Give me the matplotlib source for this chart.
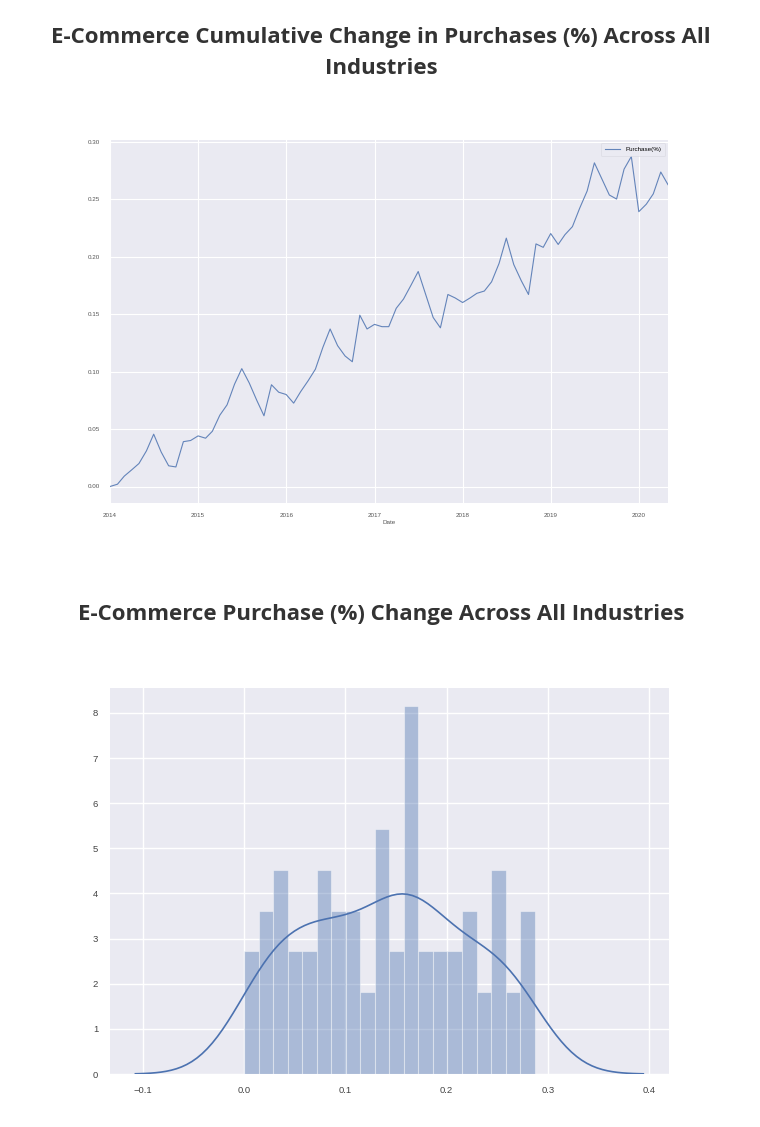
import numpy as np
import pandas as pd
import matplotlib
matplotlib.use("Agg")
import matplotlib.pyplot as plt
import matplotlib.dates as mdates

# =============================
# Data: cumulative purchase change, monthly Jan 2014 - May 2020
# =============================
start_month = "2014-01-01"
purchase = [
    0.000, 0.002, 0.009, 0.0145, 0.020, 0.031, 0.0455, 0.030, 0.018, 0.017, 0.039, 0.040,   # 2014
    0.044, 0.042, 0.048, 0.062, 0.071, 0.089, 0.1025, 0.090, 0.075, 0.0615, 0.0885, 0.082,  # 2015
    0.080, 0.0725, 0.0825, 0.092, 0.102, 0.121, 0.137, 0.1225, 0.1135, 0.1085, 0.149, 0.137, # 2016
    0.141, 0.139, 0.139, 0.155, 0.163, 0.175, 0.187, 0.167, 0.147, 0.138, 0.167, 0.164,    # 2017
    0.160, 0.164, 0.168, 0.170, 0.178, 0.194, 0.216, 0.193, 0.179, 0.167, 0.211, 0.208,    # 2018
    0.220, 0.2105, 0.219, 0.226, 0.242, 0.257, 0.2815, 0.2675, 0.2535, 0.250, 0.276, 0.287, # 2019
    0.239, 0.2455, 0.2545, 0.2735, 0.2625,                                                  # 2020
]
n_bins = 20
title_top = ["E-Commerce Cumulative Change in Purchases (%) Across All", "Industries"]
title_bottom = "E-Commerce Purchase (%) Change Across All Industries"

dates = pd.date_range(start_month, periods=len(purchase), freq="MS")
values = np.array(purchase)

# =============================
# Style (seaborn darkgrid look)
# =============================
plt.rcParams.update({
    "font.family": ["Liberation Sans", "DejaVu Sans"],
    "axes.facecolor": "#EAEAF2",
    "axes.edgecolor": "white",
    "axes.grid": True,
    "grid.color": "white",
    "axes.axisbelow": True,
    "xtick.bottom": False,
    "ytick.left": False,
    "xtick.color": "#444444",
    "ytick.color": "#444444",
})

W, H = 760, 1127
fig = plt.figure(figsize=(W / 100, H / 100), dpi=100)
blue = "#4C72B0"
title_kw = dict(ha="center", va="baseline", fontsize=16, fontweight="bold",
                color="#333333", family=["Open Sans", "DejaVu Sans"])

fig.text(381 / W, 1 - 43.5 / H, title_top[0], **title_kw)
fig.text(381 / W, 1 - 73.5 / H, title_top[1], **title_kw)
fig.text(381 / W, 1 - 620 / H, title_bottom, **title_kw)

# =============================
# Top: line chart
# =============================
ax1 = fig.add_axes([110 / W, 1 - 503 / H, 558 / W, 363 / H])
for s in ax1.spines.values():
    s.set_visible(False)
ax1.plot(dates, values, color=blue, lw=0.8, alpha=0.85, label="Purchase(%)")
ax1.set_xlim(dates[0], dates[-1])
ax1.set_ylim(-0.01435, 0.30135)
ax1.set_yticks(np.arange(0, 0.31, 0.05))
ax1.yaxis.set_major_formatter(plt.FormatStrFormatter("%.2f"))
ax1.xaxis.set_major_locator(mdates.YearLocator())
ax1.xaxis.set_major_formatter(mdates.DateFormatter("%Y"))
ax1.tick_params(labelsize=4.5, pad=4, labelcolor="#555555")
ax1.grid(lw=0.8)
ax1.set_xlabel("Date", fontsize=4.5, color="#555555", labelpad=1)
leg = ax1.legend(loc="upper right", fontsize=4.5, frameon=True, handlelength=2.5,
                 borderpad=0.6, fancybox=True)
leg.get_frame().set_facecolor("#EAEAF2")
leg.get_frame().set_edgecolor("#D8D8E0")
leg.get_frame().set_linewidth(0.5)

# =============================
# Bottom: histogram + KDE
# =============================
ax2 = fig.add_axes([110 / W, 1 - 1074 / H, 558.7 / W, 386 / H])
for s in ax2.spines.values():
    s.set_visible(False)
ax2.hist(values, bins=n_bins, density=True, color=blue, alpha=0.4,
         edgecolor="white", linewidth=0.8)

# Gaussian KDE, statsmodels-style scott bandwidth, cut=3 (like distplot)
n = len(values)
iqr = np.percentile(values, 75) - np.percentile(values, 25)
bw = 1.059 * min(values.std(), iqr / 1.349) * n ** (-1 / 5)
grid = np.linspace(values.min() - 3 * bw, values.max() + 3 * bw, 100)
dens = np.exp(-0.5 * ((grid[:, None] - values[None, :]) / bw) ** 2).sum(axis=1)
dens = dens / (n * bw * np.sqrt(2 * np.pi))
ax2.plot(grid, dens, color=blue, lw=1.2)

ax2.set_xticks([-0.1, 0.0, 0.1, 0.2, 0.3, 0.4])
ax2.set_yticks(range(0, 9))
ax2.tick_params(labelsize=6.8, pad=5)
ax2.grid(lw=1.0)

fig.savefig("out.png", dpi=100)
